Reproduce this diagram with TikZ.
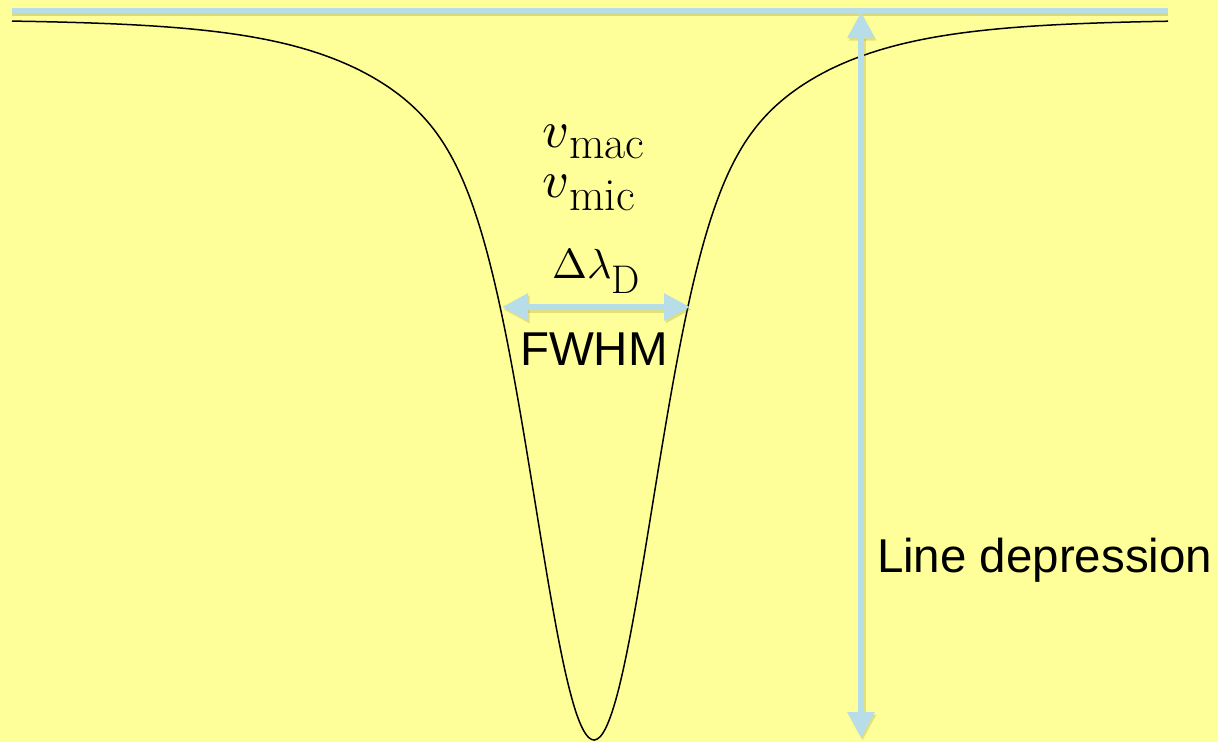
\documentclass[tikz,border=0pt]{standalone}
\usepackage{graphicx}
\usepackage{fontspec}
\newfontfamily\arialfont{Liberation Sans}
\usetikzlibrary{arrows.meta}
\definecolor{bg}{RGB}{255,255,153}
\definecolor{lblue}{RGB}{183,221,232}
\definecolor{shadowc}{RGB}{140,130,50}
\tikzset{
  every node/.style={inner sep=0pt, outer sep=0pt},
  blueline/.style={draw=lblue, line width=5pt},
  shadowline/.style={draw=shadowc, line width=5pt, opacity=0.3},
  dblarrow/.style={draw=lblue, fill=lblue, line width=6pt,
    {Triangle[length=26pt,width=26pt]}-{Triangle[length=26pt,width=26pt]}},
  dblshadow/.style={draw=shadowc, fill=shadowc, line width=6pt, opacity=0.25,
    {Triangle[length=26pt,width=26pt]}-{Triangle[length=26pt,width=26pt]}},
  profile/.style={draw=black, line width=1.5pt},
  mathlabel/.style={anchor=base west, text=black},
  sanslabel/.style={anchor=base west, text=black, font=\arialfont},
}
\begin{document}
\begin{tikzpicture}[x=1pt, y=-1pt]
  \fill[bg] (0,0) rectangle (1218,742);
  \useasboundingbox (0,0) rectangle (1218,742);

  % continuum level
  \coordinate (contL) at (12,10.5);
  \coordinate (contR) at (1168,10.5);
  \draw[shadowline, transform canvas={yshift=-3pt}] (contL) -- (contR);
  \draw[blueline] (contL) -- (contR);

  % line profile
  \draw[profile, line join=round] plot[domain=12:1168, samples=400, smooth]
    (\x, {19.5+720.5*(0.63*exp(-((\x-594)/78)*((\x-594)/78))+0.37/cosh((\x-594)/100))});

  % line depression arrow
  \coordinate (depT) at (861,12);
  \coordinate (depB) at (861,738);
  \draw[dblshadow, transform canvas={xshift=1.5pt, yshift=-2.5pt}] (depT) -- (depB);
  \draw[dblarrow] (depT) -- (depB);

  % FWHM arrow
  \coordinate (fwL) at (502,307);
  \coordinate (fwR) at (690,307);
  \draw[dblshadow, transform canvas={xshift=1.5pt, yshift=-2.5pt}] (fwL) -- (fwR);
  \draw[dblarrow] (fwL) -- (fwR);

  % labels
  \node[mathlabel] (vmac) at (542,147)
    {\scalebox{5.2}{$v$}\raisebox{-11pt}{\fontsize{46}{46}\selectfont\rmfamily mac}};
  \node[mathlabel] (vmic) at (542,197)
    {\scalebox{5.2}{$v$}\raisebox{-13pt}{\fontsize{46}{46}\selectfont\rmfamily mic}};
  \node[mathlabel] (dld) at (552,278)
    {\scalebox{4.2}{$\Delta\lambda$}\raisebox{-15pt}{\fontsize{40}{40}\selectfont\rmfamily D}};
  \node[sanslabel, font=\arialfont\fontsize{47.5}{47.5}\selectfont] (fwhm) at (520,365) {FWHM};
  \node[sanslabel, font=\arialfont\fontsize{47.5}{47.5}\selectfont] (ldep) at (877,572) {Line depression};
\end{tikzpicture}
\end{document}
